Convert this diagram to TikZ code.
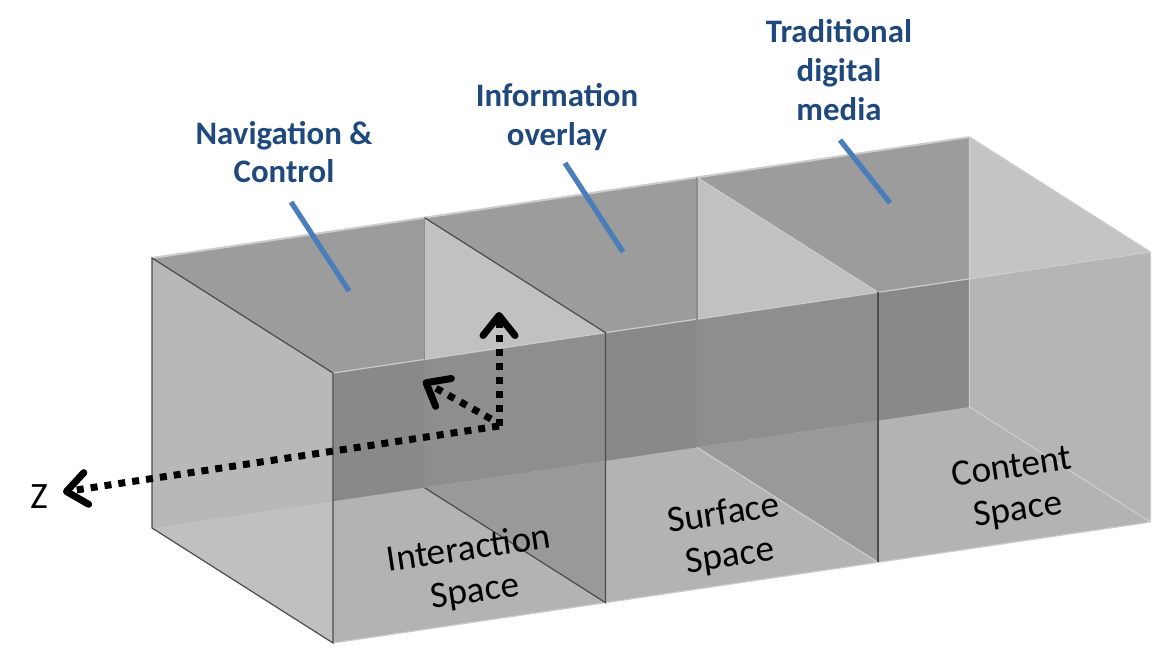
\documentclass[tikz,border=0pt]{standalone}
\usepackage{fontspec}
\setmainfont{Carlito}
\usepackage{tikz}
\usetikzlibrary{arrows.meta}

\definecolor{labelblue}{RGB}{31,73,125}
\definecolor{leaderblue}{RGB}{74,126,187}
\definecolor{topgray}{gray}{0.612}
\definecolor{frontgray}{gray}{0.702}
\definecolor{midgray}{gray}{0.537}
\definecolor{endlight}{gray}{0.753}
\definecolor{endmid}{gray}{0.722}
\definecolor{divlow}{gray}{0.600}
\definecolor{divup}{gray}{0.757}
\definecolor{divmid}{gray}{0.557}
\definecolor{rightup}{gray}{0.769}
\definecolor{rightlow}{gray}{0.710}

\begin{document}
\begin{tikzpicture}[
	  x=0.5pt, y=-0.5pt,
	  edgedark/.style={draw=black!70, line width=0.6pt},
	  edgemid/.style={draw=black!45, line width=0.6pt},
	  edgelight/.style={draw=white!80!black, line width=1pt},
	  axis/.style={line width=3.5pt, dash pattern=on 3.5pt off 3.5pt,
	    -{Straight Barb[length=10pt, width=16pt, round]}},
	  leader/.style={draw=leaderblue, line width=2.6pt},
	  toplabel/.style={align=center, text=labelblue,
	    font=\fontsize{16.4}{19.4}\selectfont\bfseries},
	  spacelabel/.style={align=center, rotate=8.5,
	    font=\fontsize{18.6}{21.4}\selectfont},
	  axislabel/.style={font=\fontsize{18.6}{20}\selectfont}
	]
	\useasboundingbox (0,0) rectangle (1154,651);

	% corners of the four slices
	\foreach \i in {0,...,3}{
	  \coordinate (bt\i) at ({152+272.5*\i},{258-40.33*\i});
	  \coordinate (bb\i) at ({152+272.5*\i},{528-40.33*\i});
	  \coordinate (ft\i) at ({333+272.5*\i},{373-40.33*\i});
	  \coordinate (fb\i) at ({333+272.5*\i},{643-40.33*\i});
	}

	\fill[topgray] (bt0) -- (bt3) -- (ft3) -- (ft0) -- cycle;
	\fill[frontgray] (ft0) -- (ft3) -- (fb3) -- (fb0) -- cycle;
	\begin{scope}
	  \clip (ft0) -- (ft3) -- (fb3) -- (fb0) -- cycle;
	  \fill[midgray] (bt0) -- (bt3) -- (bb3) -- (bb0) -- cycle;
	\end{scope}

	\fill[endlight] (bt0) -- (ft0) -- (fb0) -- (bb0) -- cycle;
	\begin{scope}
	  \clip (bt0) -- (bt3) -- (bb3) -- (bb0) -- cycle;
	  \fill[endmid] (bt0) -- (ft0) -- (fb0) -- (bb0) -- cycle;
	\end{scope}

	\foreach \i in {1,2}{
	  \fill[divlow] (bt\i) -- (ft\i) -- (fb\i) -- (bb\i) -- cycle;
	  \begin{scope}
	    \clip (bt0) -- (bt3) -- (bb3) -- (bb0) -- cycle;
	    \fill[divup] (bt\i) -- (ft\i) -- (fb\i) -- (bb\i) -- cycle;
	    \clip (ft0) -- (ft3) -- (fb3) -- (fb0) -- cycle;
	    \fill[divmid] (bt\i) -- (ft\i) -- (fb\i) -- (bb\i) -- cycle;
	  \end{scope}
	}

	\fill[rightup] (bt3) -- (ft3) -- (fb3) -- (bb3) -- cycle;
	\begin{scope}
	  \clip (ft0) -- (ft3) -- (fb3) -- (fb0) -- cycle;
	  \fill[rightlow] (bt3) -- (ft3) -- (fb3) -- (bb3) -- cycle;
	\end{scope}

	\draw[edgelight] (bt0) -- (bt3);
	\draw[edgelight, line width=0.6pt] (ft0) -- (ft3) (fb0) -- (fb3);
	\draw[edgedark] (bt0) -- (ft0) -- (fb0) -- (bb0) -- cycle;
	\draw[edgedark] (bt1) -- (ft1) -- (fb1) -- (bb1);
	\draw[edgemid] (bt1) -- (bb1) (bt2) -- (bb2);
	\draw[edgelight, line width=0.6pt] (bt2) -- (ft2) (bb2) -- (fb2);
	\draw[edgedark] (ft2) -- (fb2);
	\draw[edgelight, line width=0.6pt] (bt3) -- (ft3) -- (fb3) (bt3) -- (bb3) -- (fb3);

	\coordinate (origin) at (499,426);
	\coordinate (xorigin) at (491,419);
	\coordinate (zend) at (63,492);
	\coordinate (yend) at (499,312);
	\coordinate (xend) at (423,381);
	\draw[axis] (origin) -- (zend);
	\draw[axis] (origin) -- (yend);
	\draw[axis] (xorigin) -- (xend);
	\node[axislabel] (zlab) at (39,497) {Z};

	\node[toplabel] (navlab) at (284,152) {Navigation \&\\Control};
	\node[toplabel] (infolab) at (557,117) {Information\\overlay};
	\node[toplabel] (tradlab) at (839,70) {Traditional\\digital\\media};

	\coordinate (navA) at (291,202);
	\coordinate (navB) at (349,291);
	\coordinate (infoA) at (565,163);
	\coordinate (infoB) at (623,252);
	\coordinate (tradA) at (840,140);
	\coordinate (tradB) at (890,203);
	\draw[leader] (navA) -- (navB);
	\draw[leader] (infoA) -- (infoB);
	\draw[leader] (tradA) -- (tradB);

	\node[spacelabel] (interlab) at (472,571) {Interaction\\Space};
	\node[spacelabel] (surflab) at (727,536) {Surface\\Space};
	\node[spacelabel] (contlab) at (1015,490) {Content\\Space};

	\end{tikzpicture}
\end{document}
